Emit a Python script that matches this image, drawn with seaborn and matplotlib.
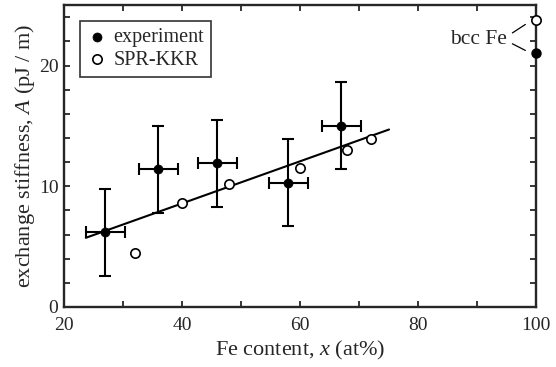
import matplotlib
matplotlib.use("Agg")
import matplotlib.pyplot as plt
import seaborn as sns
import pandas as pd
from matplotlib.ticker import MultipleLocator

# experiment (Fe content in at%, stiffness in pJ/m)
exp_x = [27, 36, 46, 58, 67]
exp_y = [6.2, 11.4, 11.9, 10.3, 15.0]
exp_xerr = [3.3, 3.3, 3.3, 3.3, 3.3]
exp_yerr = [3.6, 3.6, 3.6, 3.6, 3.6]

# SPR-KKR calculations
kkr_x = [32, 40, 48, 60, 68, 72]
kkr_y = [4.45, 8.6, 10.2, 11.55, 13.0, 13.9]

# bcc Fe reference values at x = 100
bcc_x = [100, 100]
bcc_y = [21.0, 23.8]

# linear fit line through experiment
fit_x = [23.7, 75.1]
fit_y = [5.73, 14.7]

sns.set_style("ticks")
plt.rcParams["font.family"] = ["Liberation Serif", "DejaVu Serif"]
plt.rcParams["mathtext.fontset"] = "custom"
plt.rcParams["mathtext.rm"] = "Liberation Serif"
plt.rcParams["mathtext.it"] = "Liberation Serif:italic"

fig = plt.figure(figsize=(5.56, 3.67), dpi=100)
ax = fig.add_axes([0.115, 0.1635, 0.849, 0.8225])

df_exp = pd.DataFrame({"x": exp_x, "y": exp_y})
df_kkr = pd.DataFrame({"x": kkr_x, "y": kkr_y})
df_fit = pd.DataFrame({"x": fit_x, "y": fit_y})

sns.lineplot(data=df_fit, x="x", y="y", color="black", lw=1.5, ax=ax)
ax.errorbar(exp_x, exp_y, xerr=exp_xerr, yerr=exp_yerr, fmt="none",
            ecolor="black", elinewidth=1.5, capsize=4.5, capthick=1.5, zorder=3)
sns.scatterplot(data=df_exp, x="x", y="y", color="black", edgecolor="black",
                s=42, marker="o", label="experiment", ax=ax, zorder=4)
sns.scatterplot(data=df_kkr, x="x", y="y", color="white", edgecolor="black",
                linewidth=1.2, s=45, marker="o", label="SPR-KKR", ax=ax, zorder=4)

# bcc Fe points on the right axis
ax.scatter(bcc_x[:1], bcc_y[:1], s=42, color="black", edgecolor="black",
           zorder=5, clip_on=False)
ax.scatter(bcc_x[1:], bcc_y[1:], s=45, color="white", edgecolor="black",
           linewidth=1.2, zorder=5, clip_on=False)
ax.text(90.2, 22.15, "bcc Fe", fontsize=15.5, ha="center", va="center")
ax.plot([96.0, 98.2], [22.7, 23.4], color="black", lw=0.9)
ax.plot([96.0, 98.2], [21.8, 21.25], color="black", lw=0.9)

ax.set_xlim(20, 100)
ax.set_ylim(0, 25)
ax.xaxis.set_major_locator(MultipleLocator(20))
ax.xaxis.set_minor_locator(MultipleLocator(10))
ax.yaxis.set_major_locator(MultipleLocator(10))
ax.yaxis.set_minor_locator(MultipleLocator(2))
ax.tick_params(which="both", direction="in", top=True, right=True,
               width=1.3, length=4, labelsize=14)
ax.tick_params(axis="x", pad=7)
ax.tick_params(axis="y", pad=4)
for sp in ax.spines.values():
    sp.set_linewidth(1.7)

ax.set_xlabel("Fe content, $x$ (at%)", fontsize=16, labelpad=4)
ax.set_ylabel("exchange stiffness, $A$ (pJ / m)", fontsize=16, labelpad=1)

leg = ax.legend(loc="upper left", fontsize=14.5, frameon=True, fancybox=False,
                edgecolor="black", handletextpad=0.3, borderpad=0.35,
                labelspacing=0.15, handlelength=1.0, borderaxespad=0.8)
leg.get_frame().set_linewidth(1.2)

fig.savefig("out.png", dpi=100)
